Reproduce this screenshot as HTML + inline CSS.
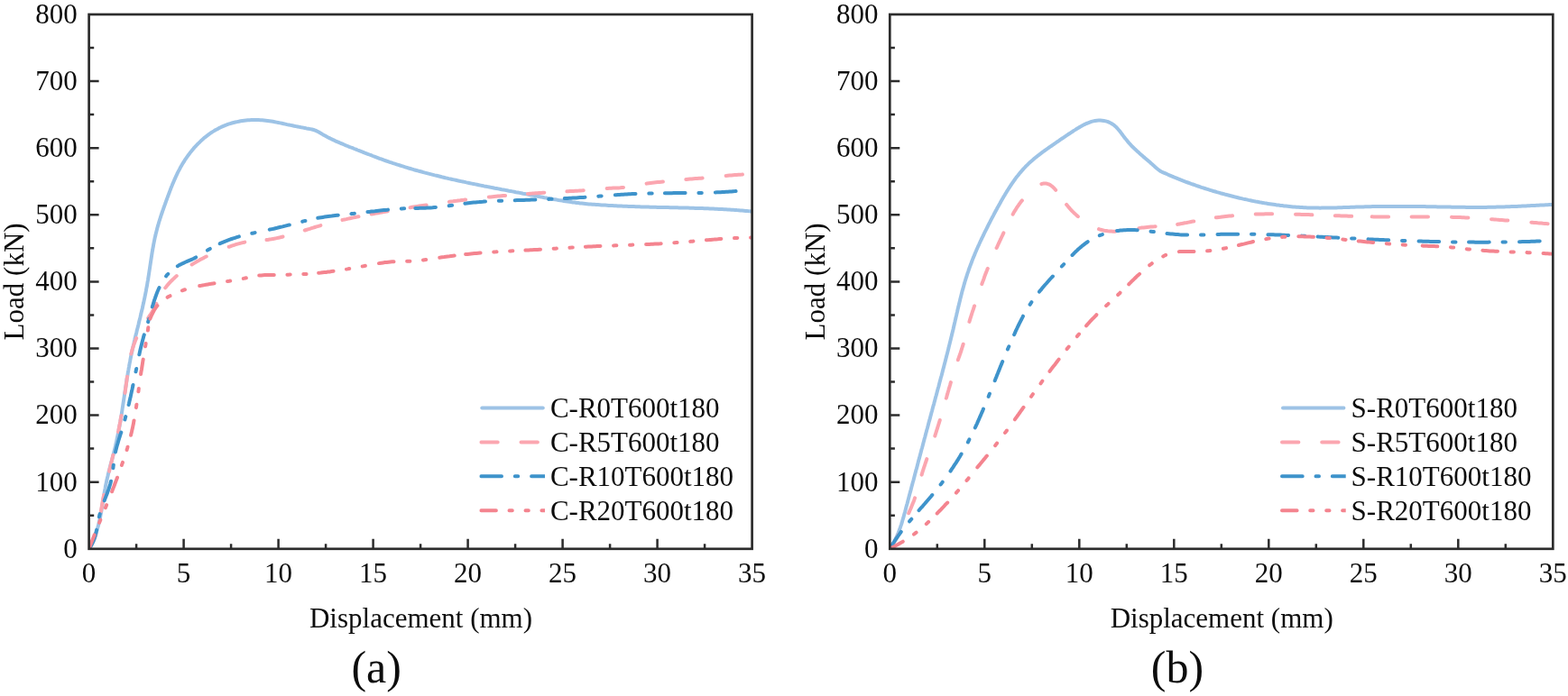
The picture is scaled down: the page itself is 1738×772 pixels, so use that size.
<!DOCTYPE html>
<html lang="en"><head><meta charset="utf-8">
<title>Load-displacement curves</title>
<style>
html,body{margin:0;padding:0;background:#fff;}
body{width:1738px;height:772px;overflow:hidden;}
svg{display:block;}
text{font-family:"Liberation Serif", "DejaVu Serif", serif;fill:#0d0d0d;}
.t{font-size:31px;}
.cap{font-size:50px;}
.ax{stroke:#2c2c2c;stroke-width:2.7;fill:none;stroke-linecap:butt;}
.tk{stroke:#2c2c2c;stroke-width:2.5;fill:none;}
.c{fill:none;stroke-width:4.0;stroke-linecap:round;stroke-linejoin:round;}
</style></head><body>
<svg width="1738" height="772" viewBox="0 0 1738 772" role="img" aria-label="Load-displacement curves">
<rect width="1738" height="772" fill="#fff"/>
<g id="chart-a">
<clipPath id="clip0"><rect x="98.6" y="16.0" width="735.0" height="592.8"/></clipPath>
<g clip-path="url(#clip0)">
<path class="c" stroke="#9dc3e6" d="M98.7 608.9L99.7 607.2L100.6 605.4L101.5 603.6L102.4 601.8L103.2 600.0L104.0 598.1L104.7 596.3L105.4 594.4L106.1 592.5L106.7 590.6L107.3 588.7L107.9 586.8L108.4 584.9L109.0 582.9L109.4 581.0L109.9 579.1L110.3 577.1L110.8 575.1L111.2 573.2L111.5 571.2L111.9 569.3L112.3 567.3L112.6 565.3L112.9 563.3L113.3 561.4L113.6 559.4L113.9 557.4L114.2 555.5L114.5 553.5L114.9 551.5L115.2 549.5L115.5 547.6L115.8 545.6L116.2 543.6L116.6 541.6L116.9 539.7L117.3 537.7L117.7 535.8L118.1 533.8L118.6 531.8L119.0 529.9L119.5 528.0L119.9 526.0L120.4 524.1L120.9 522.1L121.4 520.2L121.9 518.3L122.4 516.3L122.9 514.4L123.4 512.5L124.0 510.5L124.5 508.6L125.0 506.7L125.5 504.7L126.0 502.8L126.5 500.8L126.9 498.9L127.4 497.0L127.9 495.0L128.3 493.1L128.8 491.1L129.2 489.2L129.6 487.2L130.0 485.2L130.4 483.3L130.8 481.3L131.2 479.4L131.6 477.4L131.9 475.4L132.3 473.5L132.7 471.5L133.0 469.5L133.4 467.6L133.7 465.6L134.0 463.6L134.4 461.6L134.7 459.7L135.0 457.7L135.3 455.7L135.6 453.7L135.9 451.8L136.2 449.8L136.5 447.8L136.8 445.8L137.1 443.9L137.4 441.9L137.7 439.9L138.0 437.9L138.3 435.9L138.6 434.0L138.9 432.0L139.2 430.0L139.5 428.0L139.8 426.1L140.1 424.1L140.4 422.1L140.7 420.1L141.1 418.1L141.4 416.2L141.7 414.2L142.0 412.2L142.4 410.3L142.7 408.3L143.1 406.3L143.4 404.4L143.8 402.4L144.2 400.4L144.5 398.5L144.9 396.5L145.3 394.5L145.7 392.6L146.2 390.6L146.6 388.7L147.0 386.7L147.5 384.8L147.9 382.8L148.4 380.9L148.8 378.9L149.3 377.0L149.7 375.0L150.2 373.1L150.7 371.1L151.2 369.2L151.6 367.3L152.1 365.3L152.6 363.4L153.1 361.4L153.6 359.5L154.0 357.5L154.5 355.6L155.0 353.7L155.5 351.7L155.9 349.8L156.4 347.8L156.8 345.9L157.3 343.9L157.8 342.0L158.2 340.0L158.6 338.1L159.1 336.1L159.5 334.2L159.9 332.2L160.3 330.3L160.7 328.3L161.1 326.3L161.5 324.4L161.9 322.4L162.2 320.4L162.6 318.5L163.0 316.5L163.3 314.5L163.6 312.6L164.0 310.6L164.3 308.6L164.6 306.6L164.9 304.7L165.2 302.7L165.5 300.7L165.8 298.7L166.1 296.8L166.4 294.8L166.7 292.8L167.0 290.8L167.3 288.8L167.6 286.9L167.9 284.9L168.2 282.9L168.5 280.9L168.8 279.0L169.2 277.0L169.5 275.0L169.9 273.0L170.2 271.1L170.6 269.1L171.0 267.2L171.4 265.2L171.8 263.2L172.3 261.3L172.7 259.3L173.2 257.4L173.7 255.5L174.2 253.5L174.7 251.6L175.3 249.7L175.8 247.8L176.4 245.8L177.0 243.9L177.6 242.0L178.2 240.1L178.8 238.2L179.5 236.3L180.1 234.4L180.8 232.5L181.4 230.7L182.1 228.8L182.8 226.9L183.5 225.0L184.1 223.1L184.8 221.2L185.5 219.4L186.2 217.5L186.9 215.6L187.6 213.7L188.3 211.9L189.0 210.0L189.7 208.1L190.5 206.3L191.2 204.4L192.0 202.6L192.8 200.7L193.6 198.9L194.4 197.1L195.2 195.3L196.1 193.4L196.9 191.6L197.8 189.9L198.8 188.1L199.7 186.3L200.7 184.6L201.7 182.8L202.7 181.1L203.8 179.4L204.8 177.7L205.9 176.1L207.1 174.4L208.2 172.8L209.4 171.2L210.6 169.6L211.9 168.0L213.1 166.5L214.4 164.9L215.7 163.4L217.1 162.0L218.4 160.5L219.8 159.1L221.3 157.7L222.7 156.3L224.2 154.9L225.7 153.6L227.2 152.3L228.8 151.1L230.4 149.9L232.0 148.7L233.6 147.5L235.3 146.4L237.0 145.4L238.7 144.3L240.4 143.4L242.2 142.4L244.0 141.5L245.8 140.7L247.6 139.9L249.4 139.1L251.3 138.4L253.2 137.7L255.1 137.1L257.0 136.5L258.9 136.0L260.9 135.5L262.8 135.1L264.8 134.7L266.7 134.3L268.7 134.0L270.7 133.7L272.7 133.5L274.7 133.3L276.7 133.2L278.7 133.1L280.7 133.0L282.7 133.0L284.7 133.0L286.7 133.1L288.7 133.2L290.7 133.3L292.6 133.5L294.6 133.7L296.6 133.9L298.6 134.2L300.6 134.5L302.5 134.8L304.5 135.2L306.5 135.6L308.4 136.0L310.4 136.4L312.4 136.8L314.3 137.2L316.3 137.6L318.2 138.1L320.2 138.5L322.1 138.9L324.1 139.3L326.0 139.7L328.0 140.1L330.0 140.5L331.9 140.9L333.9 141.3L335.9 141.6L337.8 142.0L339.8 142.4L341.8 142.7L343.7 143.1L345.7 143.5L347.6 144.0L349.4 144.6L351.2 145.4L352.9 146.3L354.6 147.3L356.3 148.3L358.1 149.4L359.8 150.3L361.6 151.3L363.3 152.2L365.1 153.1L366.9 154.0L368.7 154.9L370.5 155.7L372.3 156.6L374.2 157.4L376.0 158.2L377.8 159.0L379.7 159.7L381.5 160.5L383.4 161.3L385.2 162.0L387.1 162.8L388.9 163.5L390.8 164.2L392.7 165.0L394.5 165.7L396.4 166.5L398.2 167.2L400.1 167.9L402.0 168.6L403.8 169.4L405.7 170.1L407.6 170.8L409.4 171.5L411.3 172.2L413.2 173.0L415.0 173.7L416.9 174.4L418.8 175.1L420.7 175.8L422.5 176.4L424.4 177.1L426.3 177.8L428.2 178.5L430.1 179.1L432.0 179.8L433.9 180.4L435.8 181.1L437.7 181.7L439.6 182.3L441.5 182.9L443.4 183.5L445.3 184.1L447.2 184.7L449.1 185.3L451.0 185.9L452.9 186.5L454.8 187.0L456.8 187.6L458.7 188.2L460.6 188.7L462.5 189.2L464.5 189.8L466.4 190.3L468.3 190.8L470.3 191.4L472.2 191.9L474.1 192.4L476.1 192.9L478.0 193.4L479.9 193.9L481.9 194.4L483.8 194.8L485.8 195.3L487.7 195.8L489.6 196.3L491.6 196.7L493.5 197.2L495.5 197.6L497.4 198.1L499.4 198.5L501.3 199.0L503.3 199.4L505.2 199.8L507.2 200.3L509.2 200.7L511.1 201.1L513.1 201.5L515.0 201.9L517.0 202.4L518.9 202.8L520.9 203.2L522.8 203.6L524.8 204.0L526.8 204.4L528.7 204.8L530.7 205.2L532.7 205.6L534.6 206.0L536.6 206.4L538.5 206.7L540.5 207.1L542.5 207.5L544.4 207.9L546.4 208.3L548.4 208.7L550.3 209.0L552.3 209.4L554.2 209.8L556.2 210.2L558.2 210.5L560.1 210.9L562.1 211.3L564.1 211.7L566.0 212.0L568.0 212.4L570.0 212.8L571.9 213.2L573.9 213.5L575.9 213.9L577.8 214.3L579.8 214.7L581.7 215.0L583.7 215.4L585.7 215.8L587.6 216.2L589.6 216.5L591.6 216.9L593.5 217.3L595.5 217.7L597.5 218.1L599.4 218.4L601.4 218.8L603.4 219.2L605.3 219.5L607.3 219.9L609.3 220.3L611.2 220.6L613.2 221.0L615.2 221.3L617.1 221.6L619.1 222.0L621.1 222.3L623.1 222.6L625.0 222.9L627.0 223.2L629.0 223.5L631.0 223.8L632.9 224.1L634.9 224.4L636.9 224.6L638.9 224.9L640.9 225.1L642.9 225.4L644.9 225.6L646.8 225.8L648.8 226.0L650.8 226.2L652.8 226.4L654.8 226.5L656.8 226.7L658.8 226.8L660.8 227.0L662.8 227.1L664.8 227.2L666.8 227.4L668.8 227.5L670.8 227.6L672.8 227.7L674.8 227.9L676.8 228.0L678.8 228.1L680.8 228.2L682.8 228.3L684.8 228.4L686.8 228.5L688.8 228.6L690.8 228.7L692.7 228.8L694.7 228.8L696.7 228.9L698.7 229.0L700.7 229.1L702.7 229.1L704.7 229.2L706.7 229.3L708.7 229.3L710.7 229.4L712.7 229.5L714.7 229.5L716.7 229.6L718.7 229.6L720.7 229.7L722.7 229.7L724.7 229.8L726.7 229.8L728.7 229.9L730.7 229.9L732.7 230.0L734.7 230.0L736.7 230.0L738.7 230.1L740.7 230.1L742.7 230.2L744.7 230.2L746.7 230.3L748.7 230.3L750.7 230.3L752.7 230.4L754.7 230.4L756.7 230.5L758.7 230.5L760.7 230.6L762.7 230.6L764.7 230.7L766.7 230.7L768.7 230.8L770.7 230.9L772.7 230.9L774.7 231.0L776.7 231.1L778.7 231.1L780.7 231.2L782.7 231.3L784.7 231.3L786.7 231.4L788.7 231.5L790.7 231.6L792.7 231.7L794.7 231.8L796.7 231.9L798.7 232.0L800.7 232.1L802.7 232.2L804.7 232.3L806.7 232.4L808.7 232.5L810.7 232.7L812.7 232.8L814.7 232.9L816.7 233.1L818.7 233.2L820.7 233.4L822.7 233.5L824.6 233.7L826.6 233.9L828.6 234.1L830.6 234.2L832.6 234.4L833.6 234.5"/>
<path class="c" stroke="#fba6b0" d="M98.5 608.8L99.6 607.2L100.6 605.4L101.6 603.7L102.5 601.9L103.4 600.1L104.2 598.3L105.0 596.4L105.7 594.6L106.3 592.7L106.4 592.3M111.9 567.1L112.2 565.3L112.5 563.4L112.9 561.4L113.2 559.4L113.5 557.5L113.9 555.5L114.3 553.5L114.6 551.6L115.0 549.6L115.2 549.0M121.1 522.7L121.2 522.3L121.6 520.3L122.1 518.4L122.6 516.4L123.0 514.5L123.5 512.6L124.0 510.6L124.4 508.7L124.9 506.7L125.3 504.8M131.0 479.0L131.4 477.4L131.8 475.5L132.1 473.5L132.5 471.5L132.9 469.6L133.3 467.6L133.6 465.6L134.0 463.7L134.4 461.7L134.5 460.9M138.5 435.9L138.8 434.1L139.1 432.1L139.3 430.1L139.6 428.1L139.9 426.1L140.1 424.1L140.4 422.2L140.6 420.2L140.9 418.2L141.0 417.7M145.3 392.5L145.8 390.7L146.3 388.7L146.9 386.8L147.5 384.9L148.1 383.0L148.8 381.1L149.5 379.2L150.2 377.4L151.0 375.5L151.2 375.1M164.2 352.9L165.1 351.4L166.2 349.7L167.3 348.1L168.3 346.4L169.4 344.6L170.4 342.9L171.3 341.1L172.2 339.4L173.1 337.6L173.4 336.9M183.2 319.3L183.9 318.5L185.1 316.9L186.4 315.4L187.7 313.9L189.1 312.4L190.5 311.0L191.9 309.6L193.4 308.2L194.8 306.9L195.8 306.0M212.6 293.5L214.1 292.6L215.8 291.6L217.5 290.6L219.3 289.6L221.0 288.6L222.8 287.6L224.5 286.7L226.3 285.7L228.1 284.8L228.7 284.5M253.6 273.8L253.8 273.8L255.7 273.1L257.6 272.4L259.5 271.8L261.4 271.2L263.3 270.6L265.2 270.1L267.1 269.6L269.1 269.1L271.0 268.7L271.3 268.6M295.5 266.1L296.9 265.9L298.8 265.6L300.8 265.3L302.8 264.9L304.8 264.6L306.7 264.1L308.7 263.7L310.6 263.3L312.6 262.8L313.5 262.5M337.8 255.5L339.4 255.0L341.3 254.4L343.3 253.8L345.2 253.2L347.1 252.6L349.0 252.0L350.9 251.4L352.8 250.9L354.7 250.3L355.4 250.1M379.5 244.0L379.9 243.9L381.9 243.5L383.8 243.1L385.8 242.6L387.8 242.2L389.7 241.8L391.7 241.4L393.6 241.0L395.6 240.6L397.5 240.3M411.6 237.5L413.3 237.2L415.2 236.9L417.2 236.5L419.2 236.2L421.1 235.8L423.1 235.5L425.1 235.1L427.1 234.8L429.0 234.4L429.7 234.3M454.5 230.2L454.7 230.2L456.6 229.8L458.6 229.5L460.6 229.2L462.6 228.9L464.6 228.6L466.5 228.3L468.5 228.0L470.5 227.7L472.5 227.4L472.7 227.4M497.9 223.8L498.2 223.7L500.2 223.4L502.2 223.2L504.1 222.9L506.1 222.7L508.1 222.4L510.1 222.2L512.1 221.9L514.1 221.7L516.1 221.4L516.1 221.4M541.8 218.6L541.9 218.6L543.9 218.4L545.9 218.2L547.9 218.0L549.9 217.8L551.9 217.6L553.8 217.5L555.8 217.3L557.8 217.1L559.8 216.9L560.1 216.9M584.9 214.9L585.7 214.9L587.7 214.7L589.7 214.6L591.7 214.4L593.7 214.3L595.7 214.2L597.7 214.0L599.7 213.9L601.7 213.8L603.3 213.7M628.4 212.3L629.7 212.2L631.7 212.1L633.7 212.0L635.7 211.9L637.6 211.8L639.6 211.7L641.6 211.6L643.6 211.4L645.6 211.3L646.8 211.2M672.6 208.9L673.5 208.9L675.5 208.8L677.5 208.7L679.5 208.6L681.5 208.6L683.5 208.5L685.5 208.4L687.5 208.3L689.5 208.1L691.0 208.0M716.6 203.6L717.1 203.5L719.1 203.2L721.1 202.9L723.0 202.7L725.0 202.5L727.0 202.3L729.0 202.1L731.0 201.9L733.0 201.7L734.9 201.5M760.3 198.9L760.9 198.9L762.8 198.7L764.8 198.5L766.8 198.4L768.8 198.2L770.8 198.1L772.8 198.0L774.8 197.8L776.8 197.7L778.6 197.5M804.6 195.0L804.7 195.0L806.7 194.8L808.7 194.6L810.7 194.5L812.6 194.3L814.6 194.1L816.6 194.0L818.6 193.8L820.6 193.7L822.6 193.6L822.9 193.5"/>
<path class="c" stroke="#3e93cb" d="M98.6 608.8L99.8 607.2L100.8 605.5L101.8 603.7L102.7 602.0L103.5 600.1L104.3 598.3L104.9 596.4L105.5 594.5L106.0 592.5L106.5 590.6L106.9 588.6L107.1 587.9M109.9 573.4L110.0 572.9L110.4 571.0L110.7 570.1M115.7 555.3L116.2 553.9L116.9 552.1L117.6 550.2L118.4 548.3L119.1 546.5L119.7 544.6L120.4 542.7L121.0 540.8L121.6 538.9L122.2 537.0L122.7 535.0L123.0 533.8M125.4 519.2L125.6 517.3L125.8 515.8M128.0 501.4L128.4 499.5L128.9 497.6L129.4 495.6L129.9 493.7L130.5 491.8L131.0 489.9L131.6 488.0L132.2 486.0L132.8 484.1L133.4 482.2L134.0 480.3L134.3 479.6M138.4 465.4L138.5 465.0L139.0 463.0L139.3 462.1M142.6 449.0L143.0 447.5L143.4 445.6L143.9 443.6L144.3 441.7L144.8 439.7L145.2 437.7L145.6 435.8L146.0 433.8L146.5 431.9L146.9 429.9L147.3 428.0L147.5 426.9M150.5 412.3L150.5 412.3L150.9 410.3L151.2 409.0M154.3 393.3L154.5 392.7L154.9 390.7L155.3 388.8L155.8 386.8L156.2 384.9L156.7 382.9L157.2 381.0L157.7 379.0L158.2 377.1L158.7 375.2L159.2 373.2L159.8 371.3L159.8 371.3M164.1 357.1L164.4 356.0L165.0 354.1L165.1 353.8M168.8 340.4L169.4 338.7L169.9 336.8L170.5 334.9L171.1 332.9L171.8 331.0L172.4 329.2L173.1 327.3L173.8 325.4L174.5 323.5L175.3 321.7L176.1 319.9L176.5 319.1M184.1 306.4L184.3 306.1L185.5 304.6L186.3 303.8M196.8 295.2L197.8 294.6L199.6 293.6L201.4 292.7L203.2 291.9L205.0 291.0L206.9 290.2L208.7 289.4L210.5 288.6L212.4 287.8L214.2 287.0L216.0 286.1L217.2 285.4M229.9 277.6L231.3 276.7L232.8 275.9M243.6 270.2L243.7 270.2L245.5 269.4L247.4 268.6L249.2 267.8L251.1 267.1L252.9 266.4L254.8 265.7L256.7 265.0L258.6 264.4L260.5 263.8L262.4 263.2L264.3 262.6L264.9 262.4M279.3 258.8L279.9 258.7L281.8 258.3L282.6 258.1M298.8 254.7L299.4 254.5L301.4 254.1L303.3 253.7L305.3 253.2L307.2 252.8L309.2 252.3L311.1 251.8L313.1 251.4L315.0 250.9L317.0 250.4L318.9 249.9L320.8 249.4L320.9 249.4M335.2 245.7L336.3 245.4L338.3 244.9L338.5 244.9M352.3 241.8L353.9 241.5L355.9 241.2L357.9 240.9L359.8 240.6L361.8 240.3L363.8 240.0L365.8 239.7L367.8 239.5L369.8 239.2L371.7 239.0L373.7 238.8L374.8 238.7M389.5 237.2L389.6 237.1L391.6 236.9L392.9 236.8M407.4 235.1L407.5 235.1L409.5 234.9L411.5 234.6L413.5 234.4L415.5 234.2L417.5 233.9L419.5 233.7L421.5 233.5L423.4 233.3L425.4 233.1L427.4 232.9L429.4 232.7L430.0 232.6M444.8 231.5L445.4 231.4L447.4 231.3L448.2 231.3M460.3 230.9L461.4 230.9L463.4 230.9L465.4 230.8L467.4 230.8L469.4 230.7L471.4 230.7L473.4 230.6L475.4 230.5L477.4 230.4L479.4 230.3L481.4 230.1L483.0 230.0M497.7 228.3L499.2 228.0L501.1 227.8M515.4 225.7L517.1 225.5L519.1 225.2L521.0 225.0L523.0 224.8L525.0 224.6L527.0 224.4L529.0 224.2L531.0 224.1L533.0 223.9L535.0 223.8L537.0 223.6L538.0 223.6M552.8 222.8L553.0 222.8L555.0 222.7L556.2 222.7M570.7 222.2L571.0 222.2L573.0 222.1L575.0 222.0L577.0 222.0L579.0 221.9L581.0 221.9L583.0 221.8L585.0 221.7L587.0 221.7L589.0 221.6L591.0 221.5L593.0 221.4L593.4 221.4M608.2 220.9L609.0 220.8L611.0 220.7L611.6 220.7M625.8 220.1L627.0 220.0L629.0 219.9L631.0 219.8L633.0 219.7L634.9 219.6L636.9 219.5L638.9 219.4L640.9 219.2L642.9 219.1L644.9 219.0L646.9 218.9L648.5 218.8M663.3 217.7L664.9 217.6L666.7 217.5M681.8 216.3L682.9 216.3L684.9 216.1L686.8 216.0L688.8 215.8L690.8 215.7L692.8 215.6L694.8 215.5L696.8 215.3L698.8 215.2L700.8 215.1L702.8 215.0L704.5 215.0M719.3 214.5L720.8 214.4L722.7 214.4M736.9 214.2L738.8 214.2L740.8 214.2L742.8 214.2L744.8 214.2L746.8 214.1L748.8 214.1L750.8 214.1L752.8 214.1L754.8 214.1L756.8 214.1L758.8 214.1L759.6 214.1M774.4 213.9L774.8 213.9L776.8 213.9L777.8 213.9M792.9 213.4L794.8 213.3L796.8 213.3L798.8 213.2L800.8 213.0L802.8 212.9L804.8 212.8L806.8 212.7L808.8 212.5L810.8 212.4L812.8 212.2L814.8 212.1L815.6 212.0"/>
<path class="c" stroke="#f4848f" d="M98.6 608.8L99.3 606.9L100.0 605.1L100.7 603.2L101.5 601.3L102.2 599.5L102.9 597.6L103.7 595.7L104.4 593.9L104.6 593.3M110.1 579.8L110.4 579.0L111.1 577.2L111.3 576.7M116.9 563.2L117.2 562.4L118.0 560.5L118.1 560.1M124.1 545.3L124.6 543.8L125.4 541.9L126.1 540.1L126.8 538.2L127.5 536.3L128.2 534.5L128.9 532.6L129.6 530.7L130.0 529.7M134.9 516.0L135.0 515.6L135.7 513.8L136.0 512.9M140.6 499.0L140.7 498.5L141.3 496.6L141.5 495.8M145.1 482.7L145.4 481.2L145.9 479.2L146.3 477.3L146.8 475.3L147.2 473.4L147.6 471.4L148.0 469.5L148.3 467.5L148.5 466.5M150.9 452.1L151.0 451.7L151.2 449.7L151.4 448.8M153.4 434.3L153.5 433.9L153.7 431.9L153.8 431.0M156.1 415.0L156.2 414.1L156.5 412.1L156.9 410.1L157.2 408.1L157.5 406.1L157.8 404.2L158.1 402.2L158.4 400.2L158.7 398.6M161.1 384.2L161.4 382.5L161.6 380.9M163.9 366.5L164.1 364.7L164.3 363.2M166.4 353.6L166.6 353.0L167.4 351.2L168.2 349.3L169.1 347.5L170.0 345.8L170.9 344.0L172.0 342.3L173.1 340.7L174.4 339.1L174.4 339.1M185.6 329.8L186.8 329.1L188.5 328.2M201.9 322.3L203.2 321.8L205.0 321.3M221.2 317.1L222.5 316.9L224.5 316.5L226.5 316.1L228.4 315.7L230.4 315.4L232.4 315.1L234.3 314.7L236.3 314.4L237.5 314.2M252.0 312.0L252.1 312.0L254.1 311.7L255.2 311.5M269.7 308.9L269.9 308.9L271.8 308.5L272.9 308.3M287.2 305.6L287.6 305.6L289.6 305.4L291.5 305.2L293.5 305.1L295.5 305.0L297.5 304.9L299.5 304.9L301.5 304.9L303.5 304.9L303.8 304.9M318.4 304.7L319.5 304.7L321.5 304.6L321.7 304.6M336.3 304.0L337.5 304.0L339.5 303.9L339.6 303.9M353.1 302.8L353.5 302.8L355.5 302.6L357.5 302.3L359.5 302.1L361.5 301.9L363.4 301.6L365.4 301.4L367.4 301.1L369.4 300.8L369.6 300.8M384.0 298.6L385.2 298.4L387.2 298.0L387.3 298.0M401.7 295.4L402.9 295.2L404.9 294.8L404.9 294.8M420.0 292.1L420.6 292.0L422.6 291.7L424.6 291.4L426.6 291.1L428.6 290.9L430.6 290.7L432.6 290.5L434.5 290.3L436.5 290.2M451.1 289.8L452.5 289.8L454.4 289.7M469.0 288.4L470.5 288.2L472.2 288.0M487.3 285.8L488.3 285.6L490.3 285.3L492.3 285.1L494.2 284.8L496.2 284.5L498.2 284.3L500.2 284.0L502.2 283.7L503.7 283.5M516.1 282.1L518.1 281.9L520.1 281.7L522.0 281.5L524.0 281.3L526.0 281.1L528.0 280.9L530.0 280.7L532.0 280.5L532.6 280.5M547.2 279.4L548.0 279.4L550.0 279.3L550.5 279.2M565.1 278.4L566.0 278.4L568.0 278.3L568.4 278.3M582.4 277.6L583.9 277.5L585.9 277.4L587.9 277.3L589.9 277.2L591.9 277.1L593.9 277.0L595.9 276.9L597.9 276.7L599.0 276.7M613.6 275.8L613.9 275.8L615.9 275.7L616.9 275.6M631.5 274.8L631.9 274.7L633.9 274.6L634.8 274.6M648.9 273.8L649.9 273.7L651.9 273.6L653.9 273.5L655.8 273.4L657.8 273.3L659.8 273.2L661.8 273.1L663.8 273.1L665.5 273.0M680.1 272.4L681.8 272.3L683.4 272.3M698.0 271.7L699.8 271.7L701.3 271.6M716.1 271.0L717.8 271.0L719.8 270.9L721.8 270.8L723.8 270.7L725.8 270.6L727.8 270.5L729.8 270.4L731.8 270.3L732.7 270.2M747.3 269.3L747.8 269.3L749.8 269.1L750.6 269.1M765.2 267.9L765.7 267.8L767.7 267.7L768.4 267.6M782.9 266.3L783.7 266.2L785.7 266.1L787.7 265.9L789.7 265.7L791.6 265.6L793.6 265.4L795.6 265.3L797.6 265.1L799.4 265.0M814.0 264.1L815.6 264.0L817.3 263.9M832.0 263.6L833.6 263.5"/>
</g>
<rect class="ax" x="98.6" y="16.0" width="735.0" height="592.8"/>
<path class="tk" d="M98.6 571.8h5.6M98.6 534.7h11.0M98.6 497.6h5.6M98.6 460.6h11.0M98.6 423.5h5.6M98.6 386.5h11.0M98.6 349.4h5.6M98.6 312.4h11.0M98.6 275.3h5.6M98.6 238.3h11.0M98.6 201.2h5.6M98.6 164.2h11.0M98.6 127.1h5.6M98.6 90.1h11.0M98.6 53.0h5.6M151.1 608.8v-5.6M203.6 608.8v-11.0M256.1 608.8v-5.6M308.6 608.8v-11.0M361.1 608.8v-5.6M413.6 608.8v-11.0M466.1 608.8v-5.6M518.6 608.8v-11.0M571.1 608.8v-5.6M623.6 608.8v-11.0M676.1 608.8v-5.6M728.6 608.8v-11.0M781.1 608.8v-5.6"/>
<text class="t" text-anchor="end" x="85.7" y="618.6">0</text>
<text class="t" text-anchor="end" x="85.7" y="544.5">100</text>
<text class="t" text-anchor="end" x="85.7" y="470.4">200</text>
<text class="t" text-anchor="end" x="85.7" y="396.3">300</text>
<text class="t" text-anchor="end" x="85.7" y="322.2">400</text>
<text class="t" text-anchor="end" x="85.7" y="248.1">500</text>
<text class="t" text-anchor="end" x="85.7" y="174.0">600</text>
<text class="t" text-anchor="end" x="85.7" y="99.9">700</text>
<text class="t" text-anchor="end" x="85.7" y="25.8">800</text>
<text class="t" text-anchor="middle" x="98.6" y="646.2">0</text>
<text class="t" text-anchor="middle" x="203.6" y="646.2">5</text>
<text class="t" text-anchor="middle" x="308.6" y="646.2">10</text>
<text class="t" text-anchor="middle" x="413.6" y="646.2">15</text>
<text class="t" text-anchor="middle" x="518.6" y="646.2">20</text>
<text class="t" text-anchor="middle" x="623.6" y="646.2">25</text>
<text class="t" text-anchor="middle" x="728.6" y="646.2">30</text>
<text class="t" text-anchor="middle" x="833.6" y="646.2">35</text>
<text class="t" text-anchor="middle" x="466.5" y="696.4">Displacement (mm)</text>
<text class="t" text-anchor="middle" transform="translate(26.1 312.4) rotate(-90)">Load (kN)</text>
<text class="cap" text-anchor="middle" x="417.2" y="756.8">(a)</text>
<clipPath id="lc00"><rect x="531.3" y="447.5" width="72.7" height="10"/></clipPath>
<path class="c" clip-path="url(#lc00)" stroke="#9dc3e6" d="M534.3 452.5H601.8"/>
<text class="t" x="609.9" y="463.2">C-R0T600t180</text>
<clipPath id="lc01"><rect x="531.3" y="485.4" width="72.7" height="10"/></clipPath>
<path class="c" clip-path="url(#lc01)" stroke="#fba6b0" d="M533.3 490.4L551.7 490.4M577.5 490.4L595.9 490.4M621.7 490.4L633.8 490.4"/>
<text class="t" x="609.9" y="501.1">C-R5T600t180</text>
<clipPath id="lc02"><rect x="531.3" y="523.3" width="72.7" height="10"/></clipPath>
<path class="c" clip-path="url(#lc02)" stroke="#3e93cb" d="M533.3 528.3L556.0 528.3M570.8 528.3L574.2 528.3M589.1 528.3L611.8 528.3M626.6 528.3L630.0 528.3"/>
<text class="t" x="609.9" y="539.0">C-R10T600t180</text>
<clipPath id="lc03"><rect x="531.3" y="561.2" width="72.7" height="10"/></clipPath>
<path class="c" clip-path="url(#lc03)" stroke="#f4848f" d="M533.3 566.2L549.9 566.2M564.5 566.2L567.8 566.2M582.5 566.2L585.8 566.2M600.4 566.2L617.0 566.2M631.6 566.2L633.8 566.2"/>
<text class="t" x="609.9" y="576.9">C-R20T600t180</text>
</g>
<g id="chart-b">
<clipPath id="clip1"><rect x="986.3" y="16.0" width="735.0" height="592.8"/></clipPath>
<g clip-path="url(#clip1)">
<path class="c" stroke="#9dc3e6" d="M986.4 608.7L987.5 607.0L988.6 605.3L989.6 603.6L990.6 601.9L991.5 600.1L992.4 598.3L993.3 596.5L994.1 594.7L994.9 592.8L995.7 591.0L996.4 589.1L997.1 587.3L997.8 585.4L998.4 583.5L999.1 581.6L999.7 579.7L1000.2 577.8L1000.8 575.8L1001.4 573.9L1001.9 572.0L1002.4 570.1L1003.0 568.1L1003.5 566.2L1004.0 564.3L1004.5 562.3L1005.0 560.4L1005.6 558.5L1006.1 556.5L1006.6 554.6L1007.1 552.7L1007.6 550.7L1008.1 548.8L1008.6 546.9L1009.2 544.9L1009.7 543.0L1010.2 541.1L1010.7 539.1L1011.2 537.2L1011.7 535.3L1012.3 533.3L1012.8 531.4L1013.3 529.5L1013.8 527.5L1014.3 525.6L1014.8 523.7L1015.3 521.7L1015.9 519.8L1016.4 517.9L1016.9 515.9L1017.4 514.0L1017.9 512.1L1018.4 510.1L1019.0 508.2L1019.5 506.3L1020.0 504.3L1020.5 502.4L1021.0 500.5L1021.5 498.5L1022.1 496.6L1022.6 494.7L1023.1 492.7L1023.6 490.8L1024.1 488.9L1024.6 486.9L1025.2 485.0L1025.7 483.1L1026.2 481.1L1026.7 479.2L1027.2 477.3L1027.8 475.3L1028.3 473.4L1028.8 471.5L1029.3 469.5L1029.8 467.6L1030.4 465.7L1030.9 463.7L1031.4 461.8L1031.9 459.9L1032.4 457.9L1033.0 456.0L1033.5 454.1L1034.0 452.1L1034.5 450.2L1035.1 448.3L1035.6 446.3L1036.1 444.4L1036.6 442.5L1037.1 440.5L1037.7 438.6L1038.2 436.7L1038.7 434.7L1039.2 432.8L1039.7 430.9L1040.3 429.0L1040.8 427.0L1041.3 425.1L1041.8 423.1L1042.3 421.2L1042.8 419.3L1043.4 417.3L1043.9 415.4L1044.4 413.5L1044.9 411.5L1045.4 409.6L1045.9 407.7L1046.4 405.7L1046.9 403.8L1047.4 401.9L1047.9 399.9L1048.4 398.0L1048.9 396.0L1049.4 394.1L1049.9 392.2L1050.4 390.2L1050.9 388.3L1051.4 386.3L1051.8 384.4L1052.3 382.5L1052.8 380.5L1053.3 378.6L1053.8 376.6L1054.2 374.7L1054.7 372.7L1055.2 370.8L1055.6 368.9L1056.1 366.9L1056.6 365.0L1057.0 363.0L1057.5 361.1L1057.9 359.1L1058.4 357.2L1058.8 355.2L1059.3 353.3L1059.7 351.3L1060.2 349.4L1060.6 347.4L1061.1 345.5L1061.5 343.5L1062.0 341.6L1062.5 339.6L1062.9 337.7L1063.4 335.7L1063.9 333.8L1064.3 331.8L1064.8 329.9L1065.3 328.0L1065.8 326.0L1066.3 324.1L1066.8 322.1L1067.4 320.2L1067.9 318.3L1068.4 316.4L1069.0 314.4L1069.5 312.5L1070.1 310.6L1070.7 308.7L1071.3 306.8L1071.9 304.9L1072.5 303.0L1073.2 301.1L1073.8 299.2L1074.5 297.3L1075.2 295.4L1075.9 293.5L1076.6 291.7L1077.3 289.8L1078.0 287.9L1078.7 286.1L1079.5 284.2L1080.3 282.4L1081.0 280.5L1081.8 278.7L1082.6 276.8L1083.4 275.0L1084.2 273.2L1085.1 271.3L1085.9 269.5L1086.7 267.7L1087.6 265.9L1088.4 264.1L1089.3 262.3L1090.2 260.5L1091.0 258.7L1091.9 256.9L1092.8 255.1L1093.7 253.3L1094.6 251.5L1095.5 249.7L1096.4 247.9L1097.3 246.2L1098.2 244.4L1099.1 242.6L1100.1 240.8L1101.0 239.1L1101.9 237.3L1102.9 235.5L1103.8 233.8L1104.8 232.0L1105.7 230.2L1106.7 228.5L1107.7 226.7L1108.7 225.0L1109.6 223.2L1110.6 221.5L1111.6 219.8L1112.6 218.0L1113.7 216.3L1114.7 214.6L1115.7 212.9L1116.8 211.2L1117.8 209.5L1118.9 207.8L1120.0 206.1L1121.1 204.5L1122.2 202.8L1123.4 201.2L1124.6 199.5L1125.7 197.9L1126.9 196.3L1128.2 194.8L1129.4 193.2L1130.7 191.6L1132.0 190.1L1133.3 188.6L1134.6 187.1L1136.0 185.7L1137.4 184.2L1138.8 182.8L1140.2 181.4L1141.7 180.0L1143.2 178.7L1144.7 177.4L1146.2 176.1L1147.8 174.8L1149.3 173.6L1150.9 172.3L1152.5 171.1L1154.1 169.9L1155.7 168.7L1157.3 167.5L1158.9 166.4L1160.6 165.2L1162.2 164.0L1163.8 162.9L1165.5 161.8L1167.1 160.6L1168.8 159.5L1170.4 158.3L1172.0 157.2L1173.7 156.1L1175.3 154.9L1177.0 153.8L1178.7 152.7L1180.3 151.6L1182.0 150.4L1183.6 149.3L1185.3 148.2L1187.0 147.1L1188.7 146.0L1190.3 144.9L1192.0 143.9L1193.7 142.8L1195.4 141.8L1197.1 140.7L1198.9 139.7L1200.6 138.8L1202.4 137.9L1204.2 137.0L1206.1 136.3L1207.9 135.6L1209.8 134.9L1211.8 134.4L1213.7 134.0L1215.7 133.7L1217.7 133.6L1219.7 133.6L1221.6 133.7L1223.6 134.0L1225.6 134.4L1227.5 134.9L1229.3 135.7L1231.1 136.5L1232.8 137.5L1234.5 138.6L1236.0 139.9L1237.5 141.3L1238.8 142.7L1240.1 144.2L1241.4 145.8L1242.6 147.4L1243.8 149.0L1245.0 150.6L1246.2 152.2L1247.4 153.8L1248.7 155.3L1249.9 156.9L1251.2 158.4L1252.6 159.9L1253.9 161.3L1255.3 162.8L1256.8 164.2L1258.2 165.6L1259.7 166.9L1261.1 168.3L1262.6 169.6L1264.1 171.0L1265.6 172.3L1267.1 173.6L1268.7 174.9L1270.2 176.2L1271.7 177.5L1273.2 178.8L1274.7 180.1L1276.2 181.4L1277.7 182.8L1279.2 184.1L1280.7 185.5L1282.2 186.8L1283.7 188.0L1285.3 189.2L1287.0 190.2L1288.8 191.1L1290.6 191.9L1292.5 192.7L1294.3 193.5L1296.1 194.3L1298.0 195.1L1299.8 195.9L1301.6 196.7L1303.5 197.4L1305.4 198.2L1307.2 198.9L1309.1 199.7L1310.9 200.4L1312.8 201.1L1314.7 201.8L1316.6 202.5L1318.4 203.2L1320.3 203.9L1322.2 204.5L1324.1 205.2L1326.0 205.9L1327.9 206.5L1329.8 207.1L1331.7 207.8L1333.6 208.4L1335.5 209.0L1337.4 209.6L1339.3 210.2L1341.2 210.8L1343.1 211.4L1345.0 212.0L1347.0 212.5L1348.9 213.1L1350.8 213.6L1352.7 214.2L1354.7 214.7L1356.6 215.2L1358.5 215.8L1360.5 216.3L1362.4 216.8L1364.3 217.3L1366.3 217.8L1368.2 218.3L1370.2 218.7L1372.1 219.2L1374.1 219.7L1376.0 220.1L1378.0 220.6L1379.9 221.0L1381.9 221.4L1383.8 221.9L1385.8 222.3L1387.7 222.7L1389.7 223.1L1391.7 223.5L1393.6 223.8L1395.6 224.2L1397.6 224.6L1399.5 224.9L1401.5 225.3L1403.5 225.6L1405.4 225.9L1407.4 226.2L1409.4 226.5L1411.4 226.8L1413.4 227.1L1415.3 227.4L1417.3 227.6L1419.3 227.9L1421.3 228.1L1423.3 228.4L1425.3 228.6L1427.3 228.8L1429.3 229.0L1431.3 229.2L1433.2 229.4L1435.2 229.5L1437.2 229.7L1439.2 229.8L1441.2 230.0L1443.2 230.1L1445.2 230.2L1447.2 230.3L1449.2 230.4L1451.2 230.5L1453.2 230.5L1455.2 230.6L1457.2 230.6L1459.2 230.6L1461.2 230.6L1463.2 230.7L1465.2 230.6L1467.2 230.6L1469.2 230.6L1471.2 230.6L1473.2 230.6L1475.2 230.5L1477.2 230.5L1479.2 230.4L1481.2 230.4L1483.2 230.3L1485.2 230.2L1487.2 230.2L1489.2 230.1L1491.2 230.0L1493.2 230.0L1495.2 229.9L1497.2 229.8L1499.2 229.8L1501.2 229.7L1503.2 229.6L1505.2 229.6L1507.2 229.5L1509.2 229.4L1511.2 229.4L1513.2 229.3L1515.2 229.3L1517.2 229.2L1519.2 229.2L1521.2 229.1L1523.2 229.1L1525.2 229.1L1527.2 229.0L1529.2 229.0L1531.2 229.0L1533.2 229.0L1535.3 229.0L1537.3 228.9L1539.3 228.9L1541.3 228.9L1543.3 228.9L1545.3 228.9L1547.3 228.9L1549.3 228.9L1551.3 228.9L1553.3 228.9L1555.3 228.9L1557.3 228.9L1559.3 228.9L1561.3 228.9L1563.3 229.0L1565.3 229.0L1567.3 229.0L1569.3 229.0L1571.3 229.0L1573.3 229.1L1575.3 229.1L1577.3 229.1L1579.3 229.1L1581.3 229.2L1583.3 229.2L1585.3 229.2L1587.3 229.3L1589.3 229.3L1591.3 229.3L1593.3 229.4L1595.3 229.4L1597.3 229.4L1599.3 229.5L1601.3 229.5L1603.3 229.6L1605.3 229.6L1607.3 229.6L1609.3 229.7L1611.3 229.7L1613.3 229.7L1615.3 229.7L1617.3 229.8L1619.3 229.8L1621.3 229.8L1623.3 229.8L1625.3 229.9L1627.3 229.9L1629.3 229.9L1631.3 229.9L1633.3 229.9L1635.3 229.9L1637.3 229.9L1639.3 229.9L1641.3 229.9L1643.3 229.9L1645.3 229.9L1647.3 229.9L1649.3 229.8L1651.3 229.8L1653.3 229.8L1655.3 229.7L1657.3 229.7L1659.3 229.6L1661.3 229.6L1663.3 229.5L1665.3 229.5L1667.3 229.4L1669.3 229.3L1671.3 229.3L1673.3 229.2L1675.3 229.1L1677.3 229.0L1679.3 229.0L1681.3 228.9L1683.3 228.8L1685.3 228.7L1687.3 228.6L1689.3 228.5L1691.3 228.4L1693.3 228.3L1695.3 228.2L1697.3 228.1L1699.3 228.0L1701.3 227.9L1703.3 227.8L1705.3 227.7L1707.3 227.6L1709.3 227.5L1711.3 227.4L1713.3 227.3L1715.3 227.2L1717.3 227.1L1719.3 227.0L1721.3 226.9"/>
<path class="c" stroke="#fba6b0" d="M986.3 608.8L987.4 607.2L988.5 605.5L989.6 603.8L990.7 602.1L991.7 600.4L992.8 598.7L993.8 597.0L994.7 595.2L995.7 593.4L995.9 593.1M1007.2 569.3L1007.7 568.1L1008.5 566.3L1009.3 564.5L1010.1 562.6L1010.8 560.8L1011.6 558.9L1012.3 557.1L1013.1 555.2L1013.7 553.4L1014.1 552.3M1021.6 526.6L1021.7 526.5L1022.2 524.6L1022.8 522.7L1023.4 520.8L1024.0 518.9L1024.7 517.0L1025.3 515.1L1025.9 513.2L1026.6 511.3L1027.2 509.4L1027.3 509.1M1036.3 483.6L1036.5 482.9L1037.1 481.0L1037.7 479.1L1038.3 477.2L1038.9 475.3L1039.5 473.4L1040.1 471.5L1040.7 469.6L1041.3 467.7L1041.8 466.0M1048.8 441.7L1049.1 440.8L1049.6 438.9L1050.2 436.9L1050.7 435.0L1051.3 433.1L1051.8 431.2L1052.4 429.3L1053.0 427.3L1053.5 425.4L1053.9 424.1M1061.9 399.2L1062.0 398.7L1062.7 396.9L1063.4 395.0L1064.0 393.1L1064.7 391.2L1065.3 389.3L1065.9 387.4L1066.5 385.5L1067.1 383.6L1067.7 381.7M1074.4 356.8L1074.5 356.6L1075.1 354.6L1075.7 352.7L1076.3 350.8L1076.9 348.9L1077.5 347.0L1078.1 345.1L1078.8 343.2L1079.4 341.3L1080.0 339.4L1080.1 339.3M1088.3 315.1L1088.4 314.8L1089.1 312.9L1089.8 311.1L1090.5 309.2L1091.1 307.3L1091.8 305.4L1092.5 303.5L1093.2 301.7L1094.0 299.8L1094.7 297.9L1094.8 297.8M1104.6 275.0L1105.1 274.1L1105.9 272.3L1106.7 270.5L1107.6 268.7L1108.4 266.8L1109.3 265.0L1110.1 263.2L1111.0 261.4L1111.8 259.6L1112.4 258.3M1122.7 237.7L1123.4 236.3L1124.4 234.6L1125.5 232.9L1126.5 231.2L1127.6 229.5L1128.8 227.9L1129.9 226.2L1131.1 224.6L1132.3 223.1L1132.9 222.4M1154.4 204.1L1154.9 203.9L1156.9 203.5L1158.8 203.4L1160.7 203.8L1162.5 204.4L1164.3 205.3L1165.9 206.5L1167.4 207.8L1168.8 209.2L1170.1 210.7L1170.2 210.8M1182.1 226.9L1183.3 228.3L1184.6 229.9L1185.9 231.4L1187.2 232.8L1188.6 234.3L1190.0 235.7L1191.5 237.1L1192.9 238.4L1194.4 239.8L1194.9 240.1M1218.0 254.1L1218.2 254.2L1220.1 254.8L1222.0 255.3L1224.0 255.7L1226.0 256.0L1227.9 256.3L1229.9 256.5L1231.9 256.6L1233.9 256.7L1235.9 256.7L1236.2 256.7M1262.4 253.1L1263.6 252.9L1265.6 252.6L1267.6 252.4L1269.6 252.2L1271.6 252.0L1273.6 251.8L1275.6 251.6L1277.6 251.4L1279.5 251.3L1280.7 251.2M1305.2 248.8L1305.4 248.7L1307.4 248.4L1309.4 248.1L1311.3 247.7L1313.3 247.3L1315.3 247.0L1317.2 246.6L1319.2 246.2L1321.1 245.8L1323.1 245.4L1323.3 245.4M1347.8 241.3L1348.8 241.2L1350.7 240.9L1352.7 240.7L1354.7 240.4L1356.7 240.2L1358.7 240.0L1360.7 239.8L1362.7 239.6L1364.7 239.4L1366.1 239.2M1391.7 237.6L1392.6 237.6L1394.6 237.5L1396.6 237.5L1398.6 237.4L1400.6 237.4L1402.6 237.3L1404.6 237.3L1406.6 237.3L1408.6 237.3L1410.1 237.3M1436.0 237.7L1436.6 237.7L1438.6 237.8L1440.6 237.8L1442.6 237.9L1444.6 237.9L1446.6 238.0L1448.6 238.1L1450.6 238.1L1452.6 238.2L1454.4 238.3M1479.8 239.2L1480.6 239.2L1482.6 239.3L1484.6 239.3L1486.6 239.4L1488.6 239.5L1490.6 239.5L1492.6 239.6L1494.6 239.7L1496.6 239.7L1498.2 239.8M1520.7 240.3L1522.6 240.4L1524.6 240.4L1526.6 240.4L1528.6 240.5L1530.6 240.5L1532.6 240.5L1534.6 240.5L1536.6 240.5L1538.6 240.6L1539.1 240.6M1564.6 240.5L1566.6 240.5L1568.6 240.5L1570.6 240.5L1572.6 240.5L1574.6 240.5L1576.6 240.5L1578.6 240.5L1580.6 240.5L1582.6 240.5L1583.0 240.5M1609.0 240.8L1610.6 240.9L1612.6 240.9L1614.6 241.0L1616.6 241.1L1618.6 241.1L1620.6 241.2L1622.6 241.3L1624.6 241.4L1626.6 241.5L1627.4 241.5M1653.0 243.2L1654.5 243.3L1656.5 243.4L1658.5 243.6L1660.5 243.7L1662.5 243.9L1664.5 244.0L1666.5 244.2L1668.5 244.4L1670.5 244.5L1671.3 244.6M1697.3 246.7L1698.4 246.8L1700.4 247.0L1702.4 247.1L1704.4 247.3L1706.3 247.4L1708.3 247.6L1710.3 247.8L1712.3 247.9L1714.3 248.1L1715.6 248.2"/>
<path class="c" stroke="#3e93cb" d="M986.3 608.8L987.3 607.1L988.3 605.3L989.4 603.6L990.4 602.0L991.5 600.3L992.6 598.6L993.7 597.0L994.9 595.3L996.0 593.7L997.2 592.1L998.4 590.5L998.8 589.9M1008.1 578.3L1008.4 577.9L1009.7 576.4L1010.3 575.7M1018.5 566.1L1018.8 565.8L1020.1 564.3L1021.4 562.8L1022.8 561.3L1024.1 559.8L1025.4 558.3L1026.7 556.7L1028.0 555.2L1029.3 553.7L1030.6 552.2L1031.9 550.7L1033.2 549.1L1033.3 549.0M1042.6 537.4L1043.2 536.7L1044.4 535.1L1044.7 534.7M1053.5 522.6L1053.8 522.1L1054.9 520.4L1056.0 518.8L1057.1 517.1L1058.2 515.4L1059.3 513.8L1060.4 512.1L1061.5 510.4L1062.5 508.7L1063.6 507.0L1064.6 505.3L1065.6 503.5L1065.7 503.5M1072.9 490.5L1073.4 489.5L1074.3 487.8L1074.4 487.4M1080.8 474.4L1081.3 473.4L1082.1 471.6L1083.0 469.8L1083.8 467.9L1084.6 466.1L1085.4 464.3L1086.2 462.4L1087.0 460.6L1087.8 458.8L1088.6 456.9L1089.4 455.1L1090.0 453.6M1095.7 439.9L1096.2 438.4L1096.9 436.7M1102.7 422.2L1102.9 421.7L1103.6 419.9L1104.4 418.0L1105.1 416.1L1105.9 414.3L1106.6 412.4L1107.4 410.6L1108.1 408.7L1108.8 406.9L1109.6 405.0L1110.4 403.1L1111.1 401.3L1111.2 401.1M1116.9 387.4L1117.3 386.5L1118.1 384.7L1118.3 384.3M1124.1 371.1L1124.6 370.1L1125.4 368.2L1126.2 366.4L1127.1 364.6L1127.9 362.8L1128.8 361.0L1129.7 359.2L1130.6 357.4L1131.5 355.6L1132.4 353.8L1133.3 352.1L1134.0 350.7M1141.6 337.9L1142.4 336.6L1143.4 335.1M1152.0 323.6L1153.2 322.1L1154.5 320.6L1155.7 319.1L1157.0 317.5L1158.3 316.0L1159.7 314.5L1161.0 313.0L1162.3 311.5L1163.6 310.0L1165.0 308.5L1166.3 307.1L1166.9 306.5M1176.9 295.5L1177.1 295.2L1178.5 293.8L1179.2 293.0M1188.5 283.0L1189.4 282.1L1190.8 280.6L1192.2 279.3L1193.7 277.9L1195.1 276.5L1196.6 275.2L1198.2 273.9L1199.7 272.6L1201.3 271.4L1202.9 270.1L1204.5 269.0L1205.7 268.2M1218.8 261.2L1220.4 260.6L1221.9 260.1M1238.1 256.1L1239.7 255.9L1241.7 255.6L1243.7 255.5L1245.7 255.3L1247.7 255.2L1249.7 255.1L1251.7 255.1L1253.7 255.0L1255.7 255.1L1257.7 255.1L1259.7 255.2L1260.7 255.3M1275.5 256.7L1275.6 256.7L1277.6 256.9L1278.9 257.1M1293.5 259.0L1295.5 259.2L1297.5 259.4L1299.5 259.6L1301.4 259.8L1303.4 260.0L1305.4 260.1L1307.4 260.3L1309.4 260.4L1311.4 260.5L1313.4 260.5L1315.4 260.6L1316.1 260.6M1331.0 260.5L1331.4 260.5L1333.4 260.4L1334.4 260.4M1349.5 259.9L1351.4 259.9L1353.4 259.8L1355.4 259.8L1357.4 259.8L1359.4 259.7L1361.4 259.7L1363.4 259.7L1365.4 259.7L1367.4 259.7L1369.4 259.7L1371.4 259.7L1372.2 259.7M1387.0 259.8L1387.4 259.8L1389.4 259.8L1390.4 259.8M1405.4 260.2L1405.4 260.2L1407.4 260.2L1409.4 260.3L1411.4 260.3L1413.4 260.4L1415.4 260.5L1417.4 260.6L1419.4 260.6L1421.4 260.7L1423.4 260.8L1425.4 260.9L1427.4 260.9L1428.1 261.0M1442.9 261.6L1443.4 261.7L1445.4 261.8L1446.3 261.8M1460.6 262.5L1461.4 262.6L1463.4 262.7L1465.4 262.8L1467.4 262.9L1469.4 263.0L1471.4 263.1L1473.4 263.2L1475.4 263.3L1477.4 263.4L1479.4 263.5L1481.4 263.6L1483.3 263.7M1498.1 264.5L1499.3 264.5L1501.3 264.6L1501.5 264.6M1516.5 265.3L1517.3 265.4L1519.3 265.5L1521.3 265.6L1523.3 265.7L1525.3 265.7L1527.3 265.8L1529.3 265.9L1531.3 266.0L1533.3 266.1L1535.3 266.2L1537.3 266.3L1539.2 266.3M1554.0 266.9L1555.3 266.9L1557.3 267.0L1557.4 267.0M1572.5 267.5L1573.3 267.5L1575.3 267.6L1577.3 267.7L1579.3 267.7L1581.3 267.8L1583.3 267.8L1585.3 267.9L1587.3 267.9L1589.3 268.0L1591.3 268.0L1593.3 268.1L1595.2 268.1M1610.0 268.4L1611.3 268.4L1613.3 268.4L1613.4 268.5M1628.0 268.6L1629.3 268.6L1631.3 268.6L1633.3 268.6L1635.3 268.7L1637.3 268.7L1639.3 268.7L1641.3 268.7L1643.3 268.7L1645.3 268.7L1647.3 268.7L1649.3 268.7L1650.7 268.6M1665.5 268.5L1667.3 268.5L1668.9 268.5M1684.0 268.2L1685.3 268.2L1687.3 268.1L1689.3 268.1L1691.3 268.0L1693.3 268.0L1695.3 267.9L1697.3 267.8L1699.3 267.8L1701.3 267.7L1703.3 267.6L1705.3 267.6L1706.7 267.5"/>
<path class="c" stroke="#f4848f" d="M986.3 608.7L988.0 607.8L989.8 606.9L991.6 605.9L993.3 605.0L995.1 604.0L996.8 603.0L998.5 602.0L1000.3 601.0L1000.8 600.7M1013.0 592.6L1013.6 592.2L1015.2 590.9L1015.6 590.6M1026.8 581.2L1027.4 580.6L1028.8 579.2L1029.2 578.9M1038.7 569.5L1038.8 569.4L1040.2 567.9L1041.6 566.5L1043.0 565.1L1044.4 563.6L1045.8 562.2L1047.1 560.7L1048.5 559.2L1049.9 557.8L1050.2 557.5M1059.9 546.6L1060.5 545.9L1061.9 544.4L1062.1 544.1M1071.5 532.9L1072.2 532.1L1073.5 530.6L1073.6 530.4M1083.3 518.4L1083.5 518.2L1084.8 516.6L1086.1 515.1L1087.4 513.5L1088.6 512.0L1089.9 510.4L1091.2 508.9L1092.5 507.3L1093.7 505.8L1093.9 505.6M1103.1 494.2L1103.8 493.3L1105.0 491.8L1105.1 491.6M1114.0 480.0L1114.8 479.1L1116.0 477.5L1116.0 477.4M1124.9 465.3L1125.4 464.5L1126.6 462.9L1127.7 461.3L1128.9 459.7L1130.1 458.0L1131.2 456.4L1132.4 454.8L1133.5 453.1L1134.5 451.8M1143.0 439.8L1144.0 438.4L1144.9 437.1M1153.5 425.3L1154.5 423.9L1155.4 422.6M1163.5 411.8L1164.1 411.0L1165.3 409.4L1166.5 407.8L1167.7 406.3L1169.0 404.7L1170.2 403.1L1171.4 401.5L1172.6 399.9L1173.6 398.6M1182.6 387.1L1183.7 385.7L1184.7 384.5M1193.9 373.1L1195.0 371.7L1196.0 370.6M1204.0 361.3L1204.2 361.1L1205.5 359.6L1206.9 358.1L1208.2 356.7L1209.6 355.2L1211.0 353.7L1212.4 352.3L1213.8 350.9L1215.2 349.5L1215.4 349.2M1226.1 339.2L1226.8 338.5L1228.3 337.1L1228.5 336.9M1239.2 327.0L1240.0 326.2L1241.5 324.9L1241.6 324.7M1251.2 315.3L1251.4 315.0L1252.9 313.6L1254.3 312.2L1255.7 310.8L1257.2 309.4L1258.6 308.0L1260.0 306.6L1261.5 305.3L1263.0 303.9L1263.1 303.8M1274.2 294.2L1275.1 293.5L1276.7 292.3L1276.8 292.2M1289.2 284.4L1290.3 283.8L1292.1 282.9L1292.1 282.9M1306.9 279.1L1307.4 279.0L1309.4 278.9L1311.4 278.9L1313.4 278.9L1315.4 278.9L1317.4 278.9L1319.4 278.9L1321.4 278.9L1323.4 278.9L1323.5 278.9M1338.1 278.3L1339.4 278.2L1341.4 278.0L1341.4 278.0M1355.9 275.8L1357.2 275.5L1359.1 275.1M1372.9 272.0L1374.7 271.5L1376.7 271.0L1378.6 270.6L1380.6 270.1L1382.5 269.6L1384.5 269.1L1386.4 268.7L1388.3 268.2L1389.0 268.0M1403.3 265.1L1404.0 264.9L1406.0 264.6L1406.6 264.5M1421.1 262.9L1421.9 262.8L1423.9 262.7L1424.4 262.7M1439.3 262.3L1439.9 262.3L1441.9 262.3L1443.9 262.3L1445.9 262.4L1447.9 262.4L1449.9 262.5L1451.9 262.6L1453.9 262.7L1455.9 262.8M1470.5 263.8L1471.9 264.0L1473.8 264.1M1488.3 265.6L1489.8 265.7L1491.6 265.9M1505.7 267.4L1505.7 267.4L1507.7 267.6L1509.7 267.8L1511.7 268.0L1513.7 268.2L1515.7 268.4L1517.7 268.6L1519.6 268.7L1521.6 268.9L1522.2 269.0M1536.8 270.2L1537.6 270.3L1539.6 270.4L1540.1 270.5M1554.7 271.5L1555.6 271.5L1557.6 271.7L1558.0 271.7M1576.7 272.6L1577.5 272.7L1579.5 272.7L1581.5 272.8L1583.5 272.9L1585.5 273.0L1587.5 273.0L1589.5 273.1L1591.5 273.2L1593.3 273.3M1607.9 274.2L1609.5 274.4L1611.2 274.5M1625.7 276.2L1627.4 276.4L1629.0 276.5M1643.4 277.8L1645.3 278.0L1647.3 278.1L1649.3 278.2L1651.3 278.4L1653.3 278.5L1655.3 278.6L1657.3 278.7L1659.3 278.8L1660.0 278.8M1674.6 279.5L1675.3 279.5L1677.3 279.6L1677.9 279.6M1692.5 280.1L1693.3 280.2L1695.3 280.3L1695.8 280.3M1710.5 281.0L1711.3 281.0L1713.3 281.2L1715.3 281.3L1717.3 281.4L1719.3 281.6L1721.3 281.7"/>
</g>
<rect class="ax" x="986.3" y="16.0" width="735.0" height="592.8"/>
<path class="tk" d="M986.3 571.8h5.6M986.3 534.7h11.0M986.3 497.6h5.6M986.3 460.6h11.0M986.3 423.5h5.6M986.3 386.5h11.0M986.3 349.4h5.6M986.3 312.4h11.0M986.3 275.3h5.6M986.3 238.3h11.0M986.3 201.2h5.6M986.3 164.2h11.0M986.3 127.1h5.6M986.3 90.1h11.0M986.3 53.0h5.6M1038.8 608.8v-5.6M1091.3 608.8v-11.0M1143.8 608.8v-5.6M1196.3 608.8v-11.0M1248.8 608.8v-5.6M1301.3 608.8v-11.0M1353.8 608.8v-5.6M1406.3 608.8v-11.0M1458.8 608.8v-5.6M1511.3 608.8v-11.0M1563.8 608.8v-5.6M1616.3 608.8v-11.0M1668.8 608.8v-5.6"/>
<text class="t" text-anchor="end" x="973.4" y="618.6">0</text>
<text class="t" text-anchor="end" x="973.4" y="544.5">100</text>
<text class="t" text-anchor="end" x="973.4" y="470.4">200</text>
<text class="t" text-anchor="end" x="973.4" y="396.3">300</text>
<text class="t" text-anchor="end" x="973.4" y="322.2">400</text>
<text class="t" text-anchor="end" x="973.4" y="248.1">500</text>
<text class="t" text-anchor="end" x="973.4" y="174.0">600</text>
<text class="t" text-anchor="end" x="973.4" y="99.9">700</text>
<text class="t" text-anchor="end" x="973.4" y="25.8">800</text>
<text class="t" text-anchor="middle" x="986.3" y="646.2">0</text>
<text class="t" text-anchor="middle" x="1091.3" y="646.2">5</text>
<text class="t" text-anchor="middle" x="1196.3" y="646.2">10</text>
<text class="t" text-anchor="middle" x="1301.3" y="646.2">15</text>
<text class="t" text-anchor="middle" x="1406.3" y="646.2">20</text>
<text class="t" text-anchor="middle" x="1511.3" y="646.2">25</text>
<text class="t" text-anchor="middle" x="1616.3" y="646.2">30</text>
<text class="t" text-anchor="middle" x="1721.3" y="646.2">35</text>
<text class="t" text-anchor="middle" x="1354.2" y="696.4">Displacement (mm)</text>
<text class="t" text-anchor="middle" transform="translate(914.3 312.4) rotate(-90)">Load (kN)</text>
<text class="cap" text-anchor="middle" x="1304.9" y="756.8">(b)</text>
<clipPath id="lc10"><rect x="1419.0" y="447.5" width="72.7" height="10"/></clipPath>
<path class="c" clip-path="url(#lc10)" stroke="#9dc3e6" d="M1422.0 452.5H1489.5"/>
<text class="t" x="1497.6" y="463.2">S-R0T600t180</text>
<clipPath id="lc11"><rect x="1419.0" y="485.4" width="72.7" height="10"/></clipPath>
<path class="c" clip-path="url(#lc11)" stroke="#fba6b0" d="M1421.0 490.4L1439.4 490.4M1465.2 490.4L1483.6 490.4M1509.4 490.4L1521.5 490.4"/>
<text class="t" x="1497.6" y="501.1">S-R5T600t180</text>
<clipPath id="lc12"><rect x="1419.0" y="523.3" width="72.7" height="10"/></clipPath>
<path class="c" clip-path="url(#lc12)" stroke="#3e93cb" d="M1421.0 528.3L1443.7 528.3M1458.5 528.3L1462.0 528.3M1476.8 528.3L1499.5 528.3M1514.3 528.3L1517.8 528.3"/>
<text class="t" x="1497.6" y="539.0">S-R10T600t180</text>
<clipPath id="lc13"><rect x="1419.0" y="561.2" width="72.7" height="10"/></clipPath>
<path class="c" clip-path="url(#lc13)" stroke="#f4848f" d="M1421.0 566.2L1437.6 566.2M1452.2 566.2L1455.5 566.2M1470.2 566.2L1473.5 566.2M1488.1 566.2L1504.7 566.2M1519.3 566.2L1521.5 566.2"/>
<text class="t" x="1497.6" y="576.9">S-R20T600t180</text>
</g>
</svg>
</body></html>
